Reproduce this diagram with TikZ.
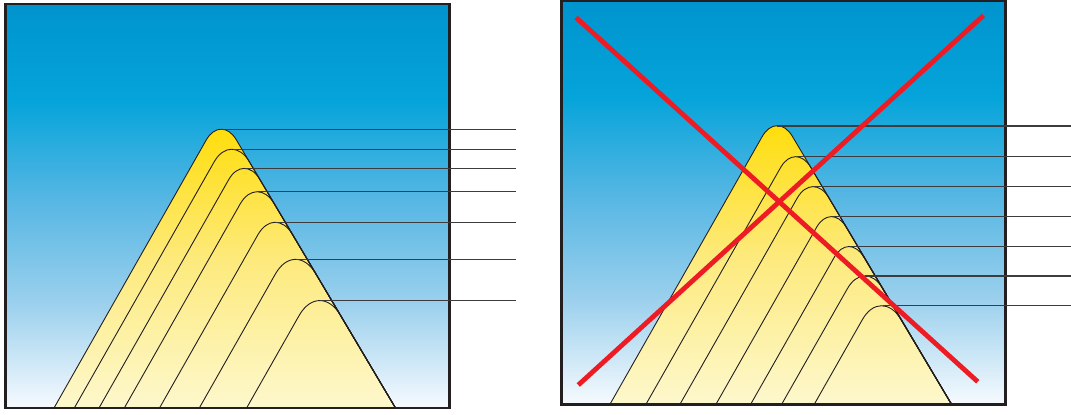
\documentclass[tikz,border=0pt]{standalone}
\usepackage{tikz}
\definecolor{skydeep}{RGB}{0,148,206}
\definecolor{skyblue}{RGB}{5,164,218}
\definecolor{skymid}{RGB}{85,182,227}
\definecolor{skylight}{RGB}{155,208,237}
\definecolor{skypale}{RGB}{246,250,254}
\definecolor{sandgold}{RGB}{255,220,0}
\definecolor{sandmid}{RGB}{253,234,125}
\definecolor{sandpale}{RGB}{253,248,205}
\definecolor{darkline}{RGB}{35,31,32}
\definecolor{leadgray}{RGB}{60,60,62}
\definecolor{crossred}{RGB}{237,28,36}
\pgfdeclareverticalshading{skyfade}{100bp}{color(0bp)=(skypale); color(25bp)=(skypale); color(38bp)=(skylight); color(51bp)=(skymid); color(63bp)=(skyblue); color(75bp)=(skydeep); color(100bp)=(skydeep)}
\pgfdeclareverticalshading{sandfade}{100bp}{color(0bp)=(sandpale); color(25bp)=(sandpale); color(50bp)=(sandmid); color(75bp)=(sandgold); color(100bp)=(sandgold)}

\begin{document}
\begin{tikzpicture}[x=1pt, y=-1pt,
    marco/.style={draw=darkline, line width=2.7pt},
    capa/.style={draw=darkline, line width=0.9pt, line join=round},
    guia/.style={draw=leadgray, line width=1.1pt},
    cruz/.style={draw=crossred, line width=4.8pt}]
  \useasboundingbox (0,0) rectangle (1071,415);
  \coordinate (finI) at (516,0);
  \coordinate (finD) at (1071,0);

  % Panel izquierdo: cielo y montaña por capas
  \shade[shading=skyfade] (5.3,4) rectangle (449.3,408);
  \shade[shading=sandfade, capa, rounded corners=30pt] (54,408) -- (221,114) -- (395.5,408);
  \draw[capa, rounded corners=35pt] (74.3,408) -- (231.4,131.5) -- (395.5,408);
  \draw[capa, rounded corners=31pt] (99,408) -- (244,152.7) -- (395.5,408);
  \draw[capa, rounded corners=34pt] (124.3,408) -- (256.9,174.5) -- (395.5,408);
  \draw[capa, rounded corners=34.5pt] (159.5,408) -- (274.9,204.8) -- (395.5,408);
  \draw[capa, rounded corners=40pt] (199.3,408) -- (295.2,239.1) -- (395.5,408);
  \draw[capa, rounded corners=41pt] (246.6,408) -- (319.4,279.8) -- (395.5,408);
  \draw[marco] (5.3,4) rectangle (449.3,408);
  \draw[guia] (220,129.3) coordinate (i1) -- (i1 -| finI);
  \draw[guia] (232.5,149.3) coordinate (i2) -- (i2 -| finI);
  \draw[guia] (244.5,168.3) coordinate (i3) -- (i3 -| finI);
  \draw[guia] (257,191.7) coordinate (i4) -- (i4 -| finI);
  \draw[guia] (274.5,222.3) coordinate (i5) -- (i5 -| finI);
  \draw[guia] (296,259.3) coordinate (i6) -- (i6 -| finI);
  \draw[guia] (320,300.7) coordinate (i7) -- (i7 -| finI);

  % Panel derecho: capas regulares, tachado
  \shade[shading=skyfade] (561.3,0.5) rectangle (1005.3,404.2);
  \shade[shading=sandfade, capa, rounded corners=30pt] (610,404.2) -- (777,110.5) -- (951.5,404.2);
  \draw[capa, rounded corners=30pt] (646,404.2) -- (795.4,141.5) -- (951.5,404.2);
  \draw[capa, rounded corners=31.5pt] (680,404.2) -- (812.8,170.7) -- (951.5,404.2);
  \draw[capa, rounded corners=29.5pt] (716,404.2) -- (831.1,201.7) -- (951.5,404.2);
  \draw[capa, rounded corners=29pt] (750.7,404.2) -- (848.7,231.9) -- (951.5,404.2);
  \draw[capa, rounded corners=35pt] (781.7,404.2) -- (864.7,258.2) -- (951.5,404.2);
  \draw[capa, rounded corners=38pt] (814.3,404.2) -- (881.2,286.5) -- (951.5,404.2);
  \draw[marco] (561.3,0.5) rectangle (1005.3,404.2);
  \draw[guia] (777,126) coordinate (d1) -- (d1 -| finD);
  \draw[guia] (796.5,156.7) coordinate (d2) -- (d2 -| finD);
  \draw[guia] (814,186.7) coordinate (d3) -- (d3 -| finD);
  \draw[guia] (832,216.7) coordinate (d4) -- (d4 -| finD);
  \draw[guia] (849.5,246.7) coordinate (d5) -- (d5 -| finD);
  \draw[guia] (865,276) coordinate (d6) -- (d6 -| finD);
  \draw[guia] (882.5,305.7) coordinate (d7) -- (d7 -| finD);
  \draw[cruz] (576,17.5) coordinate (x1) -- (977.7,381.7) coordinate (x2);
  \draw[cruz] (983.5,15.5) coordinate (x3) -- (578.3,385) coordinate (x4);
\end{tikzpicture}
\end{document}
